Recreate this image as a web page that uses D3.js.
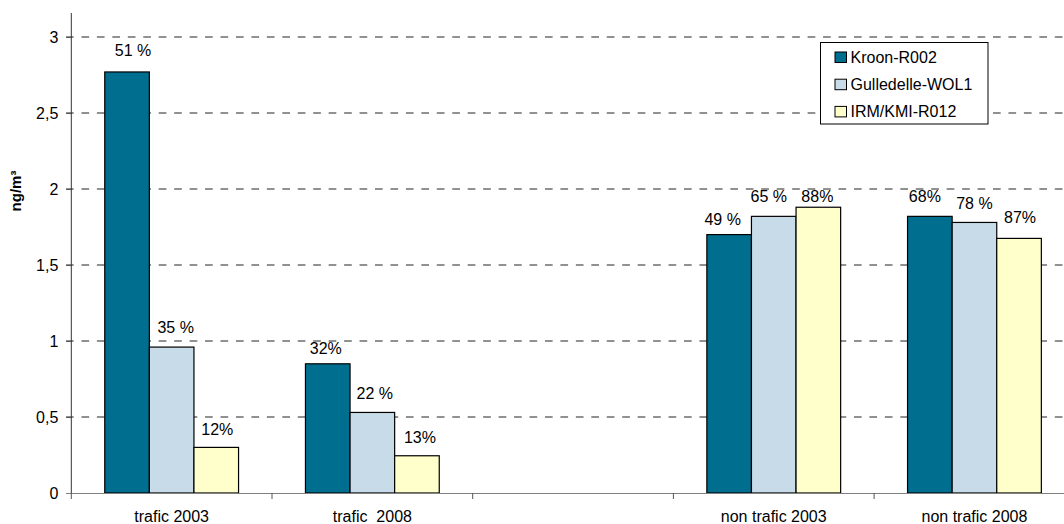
<!DOCTYPE html>
<html>
<head>
<meta charset="utf-8">
<script src="https://cdn.jsdelivr.net/npm/d3@7"></script>
<style>
  html, body { margin: 0; padding: 0; background: #fff; }
  svg { display: block; font-family: "Liberation Sans", Arial, sans-serif; }
</style>
</head>
<body>
<svg id="chart" width="1064" height="524"></svg>
<script>
// Categories along the x axis (the empty slot keeps the gap between groups)
const categories = ["trafic 2003", "trafic  2008", "", "non trafic 2003", "non trafic 2008"];
const series = ["Kroon-R002", "Gulledelle-WOL1", "IRM/KMI-R012"];

// Concentrations in ng/m³, one array per station (null = no bar)
const kroon      = [2.77, 0.85, null, 1.70, 1.82];
const gulledelle = [0.96, 0.53, null, 1.82, 1.78];
const irm        = [0.30, 0.245, null, 1.88, 1.675];

// Percentage labels printed above the bars
const kroonLabels      = ["51 %", "32%", null, "49 %", "68%"];
const gulledelleLabels = ["35 %", "22 %", null, "65 %", "78 %"];
const irmLabels        = ["12%", "13%", null, "88%", "87%"];

const yTicks = [0, 0.5, 1, 1.5, 2, 2.5, 3];
const yTickLabels = ["0", "0,5", "1", "1,5", "2", "2,5", "3"];

const colors = ["#006e8f", "#c7dce8", "#ffffcc"];

// Small nudges of the value labels relative to their bar (dx, dy of baseline above bar top)
const labelNudge = [
  [[6, 16], [-2, 10], null, [-6.5, 10], [-5, 14.5]],
  [[4, 14], [2.5, 13], null, [-5, 14.5], [0, 13.5]],
  [[1, 12.5], [3, 12.5], null, [-1, 5], [1, 15.5]]
];

const valuesBySeries = [kroon, gulledelle, irm];
const labelsBySeries = [kroonLabels, gulledelleLabels, irmLabels];

const svg = d3.select("#chart");
const plotLeft = 71.3, plotRight = 1074.8, plotTop = 13, plotBottom = 493;

const x = d3.scaleBand().domain(d3.range(categories.length)).range([plotLeft, plotRight]).padding(0);
const xInner = d3.scaleBand().domain(d3.range(series.length)).range([0, x.bandwidth()])
  .paddingInner(0).paddingOuter(0.75);
const y = d3.scaleLinear().domain([0, 3]).range([plotBottom, plotBottom - 456]);

// Dashed horizontal gridlines (including the short tick left of the axis)
svg.append("g").selectAll("line").data(yTicks.filter(d => d > 0)).join("line")
  .attr("x1", plotLeft - 5.3).attr("x2", 1064)
  .attr("y1", d => y(d)).attr("y2", d => y(d))
  .attr("stroke", "#6e6e6e").attr("stroke-width", 1.5)
  .attr("stroke-dasharray", "7.7,7.75");

// Y axis
const yAxis = d3.axisLeft(y).tickValues(yTicks).tickSize(5).tickPadding(8)
  .tickFormat((d, i) => yTickLabels[i]);
const gy = svg.append("g").attr("transform", `translate(${plotLeft},0)`).call(yAxis);
gy.select(".domain").remove();
gy.selectAll(".tick line").attr("stroke", "#555");
gy.selectAll(".tick text").attr("font-size", 16).attr("fill", "#000")
  .attr("font-family", "Liberation Sans, Arial, sans-serif");
svg.append("line").attr("x1", plotLeft).attr("x2", plotLeft).attr("y1", plotTop).attr("y2", plotBottom)
  .attr("stroke", "#333").attr("stroke-width", 1);

// Bars
const groups = svg.append("g").selectAll("g").data(series).join("g");
groups.each(function(s, si) {
  const vals = valuesBySeries[si];
  const data = vals.map((v, ci) => ({ v, ci })).filter(d => d.v !== null);
  d3.select(this).selectAll("rect").data(data).join("rect")
    .attr("x", d => x(d.ci) + xInner(si))
    .attr("width", xInner.bandwidth())
    .attr("y", d => y(d.v))
    .attr("height", d => y(0) - y(d.v))
    .attr("fill", colors[si])
    .attr("stroke", "#000").attr("stroke-width", 1.2);
});

// X axis
const xAxisLine = svg.append("g");
xAxisLine.append("line").attr("x1", plotLeft - 5).attr("x2", 1064)
  .attr("y1", plotBottom + 0.5).attr("y2", plotBottom + 0.5).attr("stroke", "#808080").attr("stroke-width", 1.2);
xAxisLine.selectAll("line.tk").data(d3.range(categories.length + 1)).join("line")
  .attr("class", "tk")
  .attr("x1", i => plotLeft + i * x.step()).attr("x2", i => plotLeft + i * x.step())
  .attr("y1", plotBottom).attr("y2", plotBottom + 6).attr("stroke", "#555");
svg.append("g").selectAll("text").data(categories.map((c, i) => ({ c, i })).filter(d => d.c))
  .join("text")
  .attr("x", d => x(d.i) + x.bandwidth() / 2)
  .attr("y", 521.5)
  .attr("text-anchor", "middle").attr("font-size", 16).attr("fill", "#000")
  .style("white-space", "pre").attr("xml:space", "preserve")
  .text(d => d.c);

// Value labels
groups.each(function(s, si) {
  const vals = valuesBySeries[si];
  const labs = labelsBySeries[si];
  const data = vals.map((v, ci) => ({ v, ci, t: labs[ci], n: labelNudge[si][ci] })).filter(d => d.v !== null);
  d3.select(this).selectAll("text").data(data).join("text")
    .attr("x", d => x(d.ci) + xInner(si) + xInner.bandwidth() / 2 + d.n[0])
    .attr("y", d => y(d.v) - d.n[1])
    .attr("text-anchor", "middle").attr("font-size", 16).attr("fill", "#000")
    .text(d => d.t);
});

// Y axis title
svg.append("text")
  .attr("transform", "translate(21,191) rotate(-90)")
  .attr("text-anchor", "middle").attr("font-size", 15).attr("font-weight", "bold")
  .text("ng/m³");

// Legend
const lg = svg.append("g").attr("transform", "translate(820.5,42.5)");
lg.append("rect").attr("width", 167.5).attr("height", 81.5)
  .attr("fill", "#fff").attr("stroke", "#000").attr("stroke-width", 1);
const items = lg.selectAll("g").data(series).join("g")
  .attr("transform", (d, i) => `translate(14.5,${9.5 + i * 27.2})`);
items.append("rect").attr("width", 11.5).attr("height", 10.5)
  .attr("fill", (d, i) => colors[i]).attr("stroke", "#000").attr("stroke-width", 1);
items.append("text").attr("x", 15.5).attr("y", 10.5).attr("font-size", 16).attr("fill", "#000")
  .text(d => d);
</script>
</body>
</html>
